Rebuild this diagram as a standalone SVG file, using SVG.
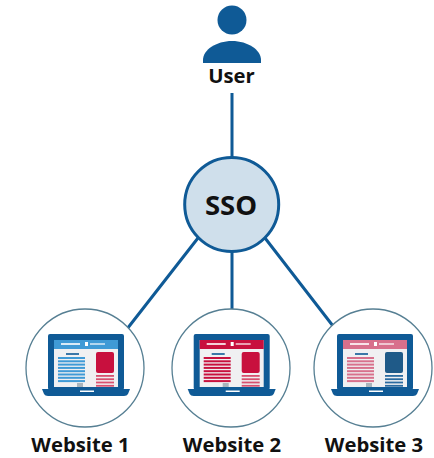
<svg xmlns="http://www.w3.org/2000/svg" width="434" height="458" viewBox="0 0 434 458">
<style>
text{font-family:"Open Sans","Noto Sans","Liberation Sans",sans-serif;font-weight:700;fill:#111;text-anchor:middle}
.lbl{font-size:20.300px}
.site{fill:#fff;stroke:#567f93;stroke-width:1.300}
.c{stroke:#0f5a96;stroke-width:3;fill:none}
.blue{fill:#0f5a96}.sky{fill:#3f9ad6}.red{fill:#c8103e}.pink{fill:#d8708c}.paper{fill:#f0f0f2}.white{fill:#fff}.grey{fill:#a9b4bc}
</style>
<defs>
<g id="laptop">
<rect class="blue" x="-38" y="-34" width="76" height="56" rx="2"/>
<path class="blue" d="M-44 21H44L42 26Q41 28 38 28H-38Q-41 28 -42 26Z"/>
<rect class="paper" x="-32" y="-28" width="64" height="47"/>
<rect class="grey" x="-9" y="15" width="6" height="4"/>
<rect class="blue" x="-20" y="-14.800" width="13" height="1.600"/>
<rect class="white" x="-6" y="22.500" width="14" height="1.500"/>
</g>
<g id="bars"><rect y="0" width="27" height="2"/><rect y="3.300" width="27" height="2"/><rect y="6.600" width="27" height="2"/><rect y="9.900" width="27" height="2"/><rect y="13.200" width="27" height="2"/><rect y="16.500" width="27" height="2"/><rect y="19.800" width="27" height="2"/><rect y="23.100" width="27" height="2"/></g>
<g id="small"><rect y="0" width="18" height="1.800"/><rect y="3.300" width="18" height="1.800"/><rect y="6.600" width="18" height="1.800"/><rect y="9.900" width="18" height="1.800"/></g>
<g id="head"><rect class="white" x="-25" y="-24.800" width="19" height="1.600"/><rect class="white" x="-1" y="-26" width="3" height="4"/><rect class="white" x="4" y="-24.800" width="15" height="1.600" opacity=".75"/></g>
</defs>
<g id="connectors">
<path class="c" d="M232 93V158M232 251V309M198 238L127 329M265 238L333 326"/>
</g>
<g id="user">
<circle class="blue" cx="232" cy="20" r="14.500"/>
<path class="blue" d="M203 63V60C203 50 216 41 232 41C248 41 261 50 261 60V63Z"/>
<text class="lbl" x="231.500" y="83">User</text>
</g>
<g id="sso">
<circle cx="231.700" cy="204.500" r="47" fill="#cfdfeb" stroke="#0f5a96" stroke-width="3"/>
<text x="231" y="214.500" font-size="27.500">SSO</text>
</g>
<g id="website1">
<circle class="site" cx="85" cy="368" r="59"/>
<g transform="translate(86 368)">
<use href="#laptop"/>
<rect class="sky" x="-32" y="-28" width="64" height="9"/>
<use href="#head"/>
<use href="#bars" x="-28" y="-11" fill="#3f9ad6"/>
<rect class="red" x="10" y="-16" width="18" height="21" rx="2"/>
<use href="#small" x="10" y="7" fill="#d8506f"/>
</g>
<text class="lbl" x="80.500" y="452">Website 1</text>
</g>
<g id="website2">
<circle class="site" cx="231" cy="368" r="59"/>
<g transform="translate(231.700 368)">
<use href="#laptop"/>
<rect class="red" x="-32" y="-28" width="64" height="9"/>
<use href="#head"/>
<use href="#bars" x="-28" y="-11" fill="#c8103e"/>
<rect class="red" x="10" y="-16" width="18" height="21" rx="2"/>
<use href="#small" x="10" y="7" fill="#d8506f"/>
</g>
<text class="lbl" x="232" y="452">Website 2</text>
</g>
<g id="website3">
<circle class="site" cx="373" cy="368" r="59"/>
<g transform="translate(375 368)">
<use href="#laptop"/>
<rect class="pink" x="-32" y="-28" width="64" height="9"/>
<use href="#head"/>
<use href="#bars" x="-28" y="-11" fill="#d8708c"/>
<rect x="10" y="-16" width="18" height="21" rx="2" fill="#1f5a88"/>
<use href="#small" x="10" y="7" fill="#2a6aa0"/>
</g>
<text class="lbl" x="374" y="452">Website 3</text>
</g>
</svg>
